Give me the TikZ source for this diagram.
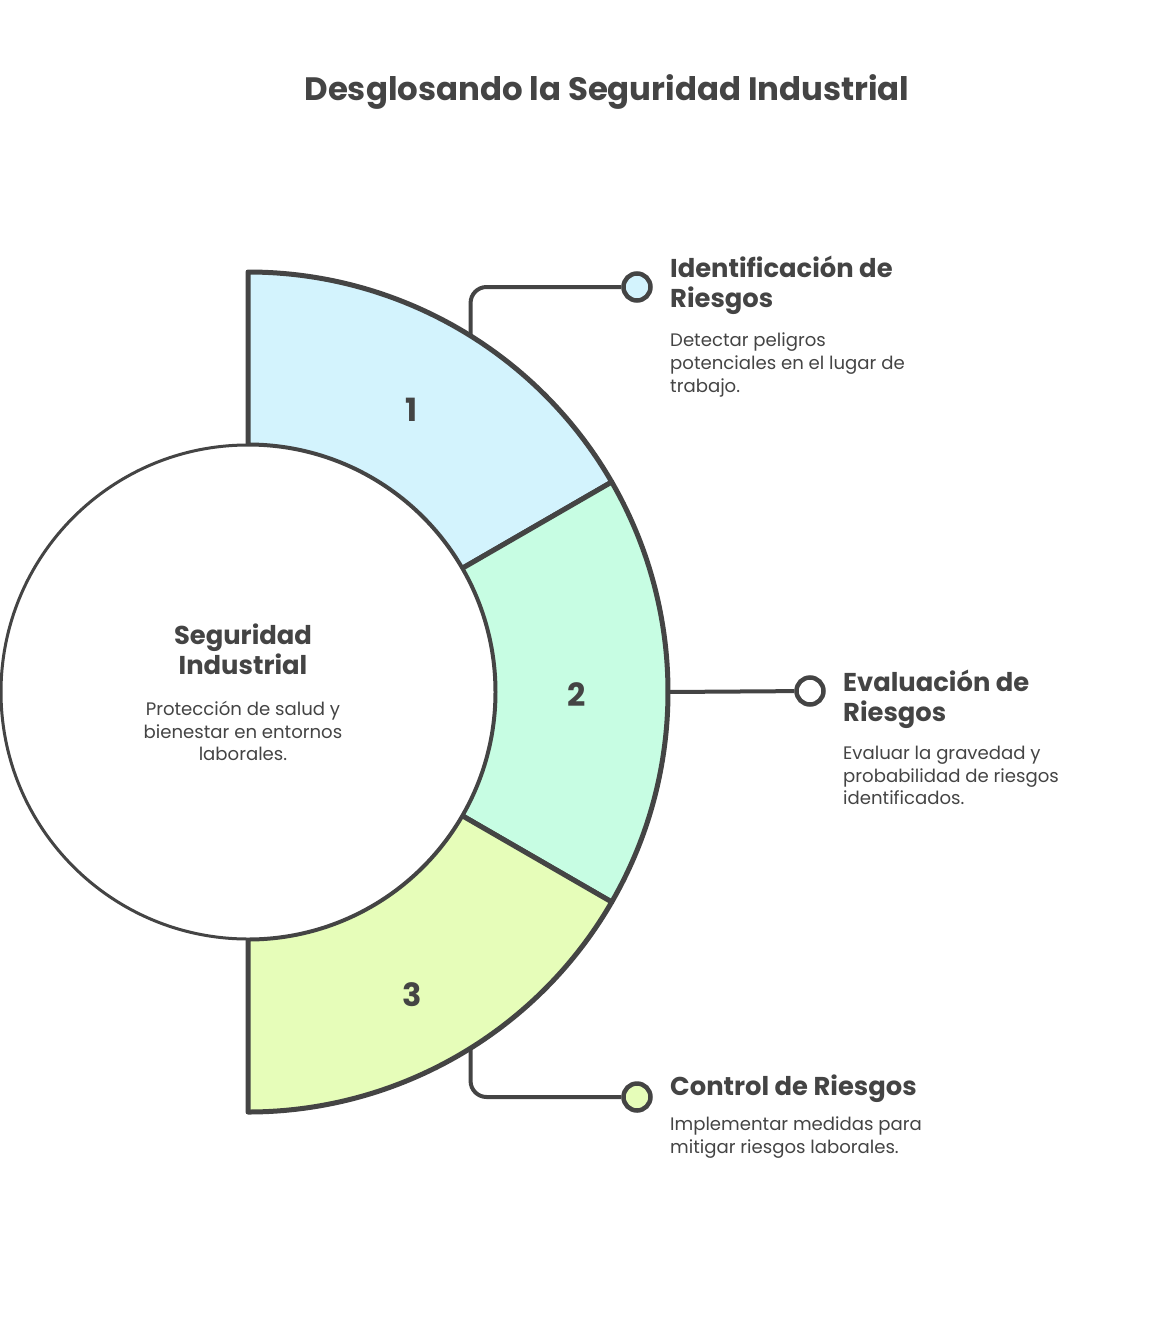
\documentclass[tikz,border=0pt]{standalone}
\usepackage{fontspec}
\setmainfont{Poppins}
\usetikzlibrary{calc}
\definecolor{ink}{RGB}{68,68,68}
\definecolor{skyfill}{RGB}{211,243,253}
\definecolor{mintfill}{RGB}{199,253,227}
\definecolor{limefill}{RGB}{230,253,185}

\begin{document}
\begin{tikzpicture}[x=1pt, y=1pt,
    ring/.style={draw=ink, line width=5pt, line join=round},
    link/.style={draw=ink, line width=4pt, rounded corners=16pt},
    dot/.style={circle, draw=ink, line width=4.5pt, minimum size=27pt, inner sep=0pt},
    numlabel/.style={font=\bfseries\fontsize{32}{36}\selectfont, text=ink},
    head/.style={font=\bfseries\fontsize{25.8}{30}\selectfont, text=ink, align=left, inner sep=0pt},
    body/.style={font=\fontsize{18.1}{22.6}\selectfont, text=ink, align=left, inner sep=0pt}]
    \useasboundingbox (0,0) rectangle (1150,-1341);
    \coordinate (c) at (248,-692);

    % Title
    \node[font=\bfseries\fontsize{32.4}{38}\selectfont, text=ink, anchor=north, inner sep=0pt] (title) at (607,-74) {Desglosando la Seguridad Industrial};

    % Ring segments
    \filldraw[ring, fill=skyfill] ($(c)+(90:247)$) -- ($(c)+(90:420)$) arc[start angle=90, end angle=30, radius=420] -- ($(c)+(30:247)$) arc[start angle=30, end angle=90, radius=247] -- cycle;
    \filldraw[ring, fill=mintfill] ($(c)+(30:247)$) -- ($(c)+(30:420)$) arc[start angle=30, end angle=-30, radius=420] -- ($(c)+(-30:247)$) arc[start angle=-30, end angle=30, radius=247] -- cycle;
    \filldraw[ring, fill=limefill] ($(c)+(-30:247)$) -- ($(c)+(-30:420)$) arc[start angle=-30, end angle=-90, radius=420] -- ($(c)+(-90:247)$) arc[start angle=-90, end angle=-30, radius=247] -- cycle;
    \node[numlabel] (numA) at (412,-410) {1};
    \node[numlabel] (numB) at (577,-695) {2};
    \node[numlabel] (numC) at (412,-995) {3};

    % Core circle
    \node[circle, draw=ink, line width=3pt, fill=white, minimum size=494pt, inner sep=0pt] (core) at (c) {};
    \node[head, align=center, anchor=north] (corehead) at (243,-624) {Seguridad\\Industrial};
    \node[body, align=center, anchor=north] (coretext) at (243,-701) {Protección de salud y\\bienestar en entornos\\laborales.};

    % Connectors
    \coordinate (armA) at ($(c)+(58:420)$);
    \coordinate (armB) at ($(c)+(0:420)$);
    \coordinate (armC) at ($(c)+(-58:420)$);
    \node[dot, fill=skyfill] (dotA) at (637,-287) {};
    \node[dot, fill=white] (dotB) at (810,-691) {};
    \node[dot, fill=limefill] (dotC) at (637,-1097) {};
    \draw[link] (armA) |- (dotA);
    \draw[link] (armB) -- (dotB);
    \draw[link] (armC) |- (dotC);

    % Descriptions
    \node[head, anchor=north west] (idhead) at (670,-256) {Identificación de\\Riesgos};
    \node[body, anchor=north west] (idtext) at (670,-333) {Detectar peligros\\potenciales en el lugar de\\trabajo.};
    \node[head, anchor=north west] (evhead) at (843,-670) {Evaluación de\\Riesgos};
    \node[body, anchor=north west] (evtext) at (843,-746) {Evaluar la gravedad y\\probabilidad de riesgos\\identificados.};
    \node[head, anchor=north west] (cthead) at (670,-1075) {Control de Riesgos};
    \node[body, anchor=north west] (cttext) at (670,-1117) {Implementar medidas para\\mitigar riesgos laborales.};
\end{tikzpicture}
\end{document}
